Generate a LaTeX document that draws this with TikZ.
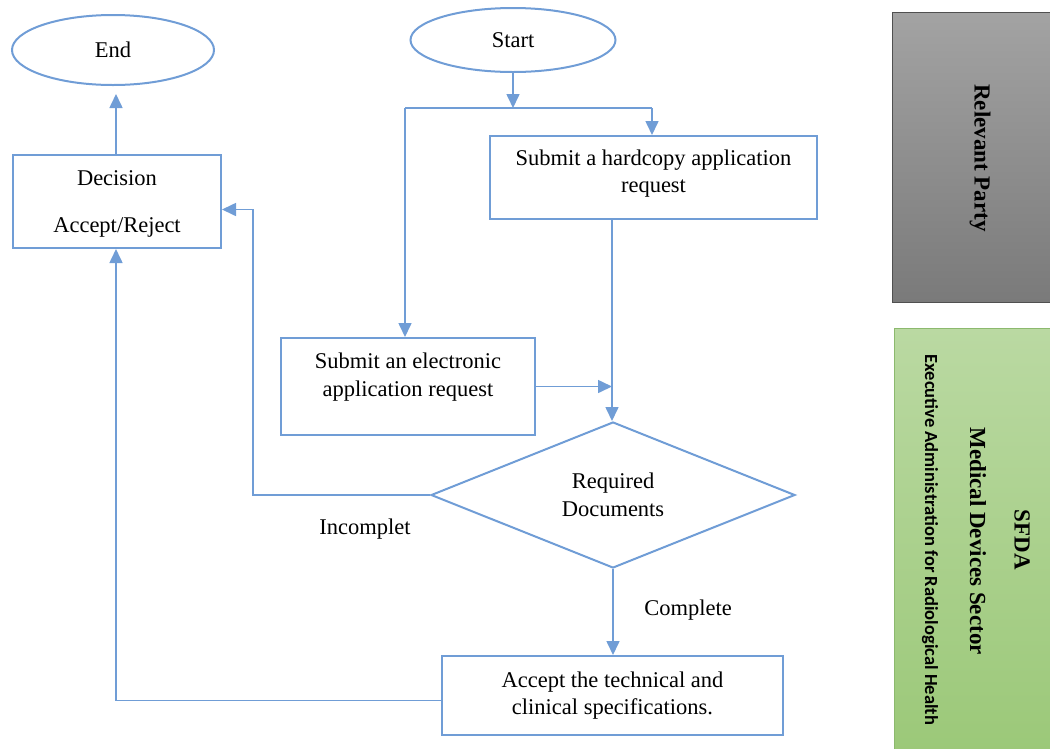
\documentclass[tikz,border=0pt]{standalone}
\usepackage{fontspec}
\setmainfont{Liberation Serif}
\newfontfamily\carlito{Carlito}
\usetikzlibrary{shapes.geometric,arrows.meta,calc}
\definecolor{flow}{RGB}{112,157,214}
\definecolor{grayA}{RGB}{163,163,163}
\definecolor{grayB}{RGB}{122,122,122}
\definecolor{grayE}{RGB}{80,80,80}
\definecolor{greenA}{RGB}{186,217,162}
\definecolor{greenB}{RGB}{155,200,120}
\definecolor{greenE}{RGB}{140,185,110}
\tikzset{
  txt/.style={font=\fontsize{22.5}{27.5}\selectfont, align=center},
  boxn/.style={draw=flow, line width=2pt, rectangle, inner sep=0pt, txt},
  oval/.style={draw=flow, line width=2pt, ellipse, inner sep=0pt, txt},
  dia/.style={draw=flow, line width=2pt, diamond, inner sep=0pt, txt},
  conn/.style={draw=flow, line width=1.6pt},
  arr/.style={conn, -{Triangle[length=14pt,width=13pt]}},
  lane/.style={rectangle, inner sep=0pt, line width=1pt},
  lanetxt/.style={font=\fontsize{23}{27}\selectfont\bfseries, rotate=-90, inner sep=0pt}
}
\begin{document}
\begin{tikzpicture}[x=1pt,y=-1pt]
\useasboundingbox (0,0) rectangle (1050,748);
% swimlane labels
\node[lane, draw=grayE, top color=grayA, bottom color=grayB, minimum width=170pt, minimum height=290pt] (rp) at (977,157) {};
\node[lanetxt] (rptxt) at (980,158) {Relevant Party};
\node[lane, draw=greenE, top color=greenA, bottom color=greenB, minimum width=170pt, minimum height=430pt] (sf) at (979,543) {};
\node[lanetxt] (sfda) at (1022,540) {SFDA};
\node[lanetxt] (mds) at (978,541) {Medical Devices Sector};
\node[font=\fontsize{18.5}{22}\selectfont\carlito\bfseries, rotate=-90, inner sep=0pt] (ear) at (930,540) {Executive Administration for Radiological Health};
% flow nodes
\node[oval, minimum width=202pt, minimum height=70pt] (end) at (113,50) {End};
\node[oval, minimum width=205pt, minimum height=64pt] (start) at (513,40) {Start};
\node[boxn, minimum width=327pt, minimum height=83pt] (hard) at (653.5,177.5) {Submit a hardcopy application\\request\\[-15pt]\mbox{}};
\node[boxn, minimum width=254pt, minimum height=97pt] (elec) at (408,386.5) {Submit an electronic\\application request\\[-4pt]\mbox{}};
\node[dia, minimum width=364pt, minimum height=146pt, aspect=2.49] (req) at (613,495) {Required\\Documents};
\node[boxn, minimum width=341pt, minimum height=79pt] (acc) at (612.5,695.5) {Accept the technical and\\clinical specifications.};
\node[boxn, minimum width=208pt, minimum height=93pt] (dec) at (117,201.5) {\mbox{}\\[-8pt]Decision\\[20pt]Accept/Reject};
\node[txt] (inc) at (365,529) {Incomplet};
\node[txt] (com) at (688,610) {Complete};
% connectors
\coordinate (j) at (513,108);
\coordinate (jl) at (405,108);
\coordinate (jr) at (652,108);
\coordinate (lb) at (253,0);
\draw[arr] (start.south) -- (j);
\draw[conn] (jl) -- (jr);
\draw[arr] (jl) -- (jl |- elec.north);
\draw[arr] (jr) -- (jr |- hard.north);
\draw[arr] ($(hard.south -| req.north)+(-1,0)$) -- ($(req.north)+(-1,0)$);
\draw[arr] (elec.east) -- ($(elec.east -| req.north)+(-1,0)$);
\draw[arr] (req.west) -- (req.west -| lb) |- ([yshift=-8pt]dec.east);
\draw[arr] (req.south) -- (req.south |- acc.north);
\draw[arr] ([yshift=-5pt]acc.west) -| ([xshift=-1pt]dec.south);
\draw[arr] ([xshift=-1pt]dec.north) -- ([xshift=-1pt,yshift=-8pt]dec.north |- end.south);
\end{tikzpicture}
\end{document}
